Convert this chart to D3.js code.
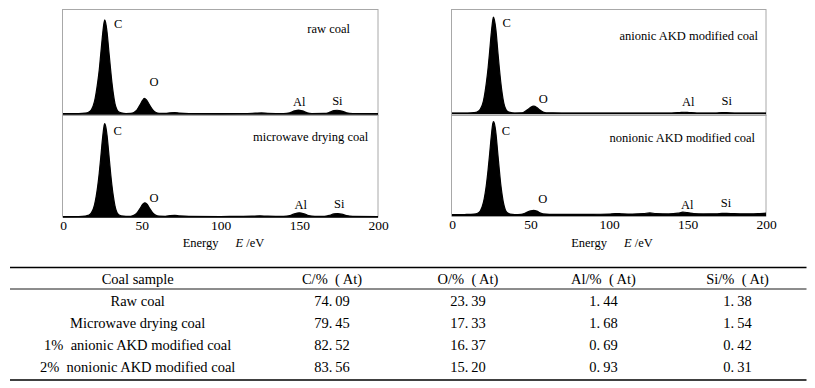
<!DOCTYPE html>
<html>
<head>
<meta charset="utf-8">
<script src="https://cdn.jsdelivr.net/npm/d3@7"></script>
<style>
  html, body { margin: 0; padding: 0; background: #fff; }
  svg { display: block; }
</style>
</head>
<body>
<svg id="chart" width="815" height="388"></svg>
<script>
// ---------------- DATA ----------------
const energyTicks = [0, 50, 100, 150, 200];

// EDS spectra: [energy (eV), relative counts]
const rawCoal = [[0,0.3],[10,0.4],[14,0.8],[16,1.5],[18,4],[20,12],[22,30],[23,42],[24,58],[25,74],[26,87],[26.5,90],[27,88],[28,78],[29,62],[30,46],[31,31],[32,19],[33,10],[34,5],[35,2.5],[37,1],[40,0.5],[43,0.6],[45,1.5],[47,4],[49,9],[50.5,13],[51.6,15],[53,13.5],[55,8.5],[57,4],[59,1.5],[61,0.7],[65,0.6],[68,1.2],[71,1.4],[74,0.9],[80,0.5],[100,0.4],[115,0.5],[122,0.8],[126,1.0],[130,0.7],[140,0.5],[144,1.2],[147,3],[149.5,3.8],[152,3],[155,1.2],[158,0.5],[166,0.6],[169,1.5],[172,3.2],[174,3.6],[177,2.8],[180,1.2],[184,0.5],[200,0.4]];
const microwaveCoal = [[0,0.4],[10,0.5],[14,0.9],[16,1.6],[18,4],[20,12],[22,30],[23,43],[24,59],[25,76],[26,89],[26.4,92],[27,90],[28,80],[29,64],[30,47],[31,32],[32,20],[33,11],[34,5.5],[35,2.8],[37,1.1],[40,0.6],[43,0.7],[45,1.6],[47,4],[49,8.5],[50.5,12.5],[52,14],[53.5,12.5],[55,8.5],[57,4],[59,1.6],[61,0.8],[65,0.7],[68,1.3],[71,1.6],[74,1.1],[80,0.6],[100,0.5],[110,0.7],[120,0.8],[125,1.2],[130,0.8],[140,0.6],[144,1.3],[147,3.2],[150,4.1],[153,3.2],[156,1.3],[160,0.6],[166,0.7],[169,1.6],[172,3],[174.5,3.4],[177,2.8],[180,1.4],[184,0.6],[200,0.5]];
const anionicCoal = [[0,0.3],[10,0.4],[14,0.8],[16,1.5],[18,4],[20,12],[22,31],[23,44],[24,60],[25,77],[26,90],[26.4,92.6],[27,90],[28,80],[29,63],[30,46],[31,31],[32,19],[33,10],[34,5],[35,2.4],[37,1],[40,0.5],[44,0.6],[46,1.5],[48,3.5],[50,5.8],[52,7],[54,5.8],[56,3.3],[58,1.4],[60,0.6],[70,0.5],[100,0.4],[140,0.5],[145,0.9],[148,1.2],[151,0.9],[156,0.5],[168,0.5],[172,0.9],[175,0.8],[180,0.5],[200,0.4]];
const nonionicCoal = [[0,0.8],[8,1],[14,1.4],[16,2],[18,4.5],[20,13],[22,32],[23,46],[24,62],[25,79],[26,92],[26.4,94],[27,92],[28,82],[29,65],[30,48],[31,32],[32,20],[33,11],[34,5.5],[35,3],[37,1.5],[40,1],[44,1.2],[46,2],[48,3.5],[50,4.6],[52,5.2],[54,4.4],[56,2.8],[58,1.6],[62,1.1],[70,1.2],[80,1.1],[90,1.2],[100,1.4],[104,1.9],[108,1.7],[115,1.5],[122,1.9],[126,2.6],[130,1.9],[138,1.6],[144,2.3],[147,3.3],[150,2.9],[154,1.9],[160,1.6],[168,1.7],[172,2.1],[175,2.2],[180,1.8],[190,1.7],[196,2],[200,2.3]];

const sampleNames = ["raw coal", "microwave drying coal", "anionic AKD modified coal", "nonionic AKD modified coal"];

// peak labels: [label, energy, counts]
const rawLabels = [["C",35.1,86.4],["O",57.8,30.8],["Al",150,11.7],["Si",174.2,12.7]];
const microwaveLabels = [["C",34.7,85.3],["O",57.8,18.9],["Al",150.9,11.8],["Si",175.4,13.4]];
const anionicLabels = [["C",34.8,87.8],["O",58.2,14.5],["Al",150.5,11.3],["Si",175,12.2]];
const nonionicLabels = [["C",34.4,85.1],["O",57.8,17.1],["Al",149.9,11.1],["Si",174.5,13.1]];
// sample name position [energy, counts]
const namePos = [[182.2,81.6],[193.8,78.7],[194.9,75.1],[193,77.4]];

// table
const tableHeaders = ["Coal sample", "C/%\u2002(\u2009At)", "O/%\u2002(\u2009At)", "Al/%\u2002(\u2009At)", "Si/%\u2002(\u2009At)"];
const tableSamples = ["Raw coal", "Microwave drying coal", "1%\u2002anionic AKD modified coal", "2%\u2002nonionic AKD modified coal"];
const cValues = [74.09, 79.45, 82.52, 83.56];
const oValues = [23.39, 17.33, 16.37, 15.20];
const alValues = [1.44, 1.68, 0.69, 0.93];
const siValues = [1.38, 1.54, 0.42, 0.31];

// ---------------- DRAW ----------------
const FONT = "'Liberation Serif', 'Times New Roman', Times, 'DejaVu Serif', serif";
const svg = d3.select("#chart").attr("font-family", FONT);

const columns = [
  { x0: 63, x1: 378, frameX0: 62.5, frameX1: 378 },
  { x0: 452, x1: 766, frameX0: 451.5, frameX1: 766 }
];
const rowsLayout = [
  { top: 9.5, bottom: 114, frameBottom: 115.5 },
  { top: 115.5, bottom: 217, frameBottom: 217 }
];
const rowsLayoutRight = [
  { top: 9.5, bottom: 113.5, frameBottom: 115.5 },
  { top: 115.5, bottom: 215.5, frameBottom: 216 }
];

const panels = [
  { col: 0, row: 0, data: rawCoal, labels: rawLabels },
  { col: 0, row: 1, data: microwaveCoal, labels: microwaveLabels },
  { col: 1, row: 0, data: anionicCoal, labels: anionicLabels },
  { col: 1, row: 1, data: nonionicCoal, labels: nonionicLabels }
];

function serif(sel, size) {
  return sel.attr("font-family", FONT).style("font-family", FONT)
    .style("font-size", size + "px").attr("fill", "#000");
}

panels.forEach((p, i) => {
  const c = columns[p.col];
  const r = (p.col === 0 ? rowsLayout : rowsLayoutRight)[p.row];
  const x = d3.scaleLinear().domain([0, 200]).range([c.x0, c.x1]);
  const y = d3.scaleLinear().domain([0, 100]).range([r.bottom, r.top]);
  const g = svg.append("g");

  g.append("rect")
    .attr("x", c.frameX0).attr("y", r.top)
    .attr("width", c.frameX1 - c.frameX0).attr("height", r.frameBottom - r.top)
    .attr("fill", "none").attr("stroke", "#a8a8a8").attr("stroke-width", 1);

  const area = d3.area()
    .x(d => x(d[0])).y0(y(0)).y1(d => y(d[1]))
    .curve(d3.curveMonotoneX);
  const line = d3.line()
    .x(d => x(d[0])).y(d => y(d[1]))
    .curve(d3.curveMonotoneX);

  g.append("path").datum(p.data).attr("d", area).attr("fill", "#000");
  g.append("path").datum(p.data).attr("d", line)
    .attr("fill", "none").attr("stroke", "#000").attr("stroke-width", 1.2);
  g.append("line")
    .attr("x1", x(0)).attr("x2", x(200)).attr("y1", y(0)).attr("y2", y(0))
    .attr("stroke", "#000").attr("stroke-width", 1.5);

  serif(g.selectAll("text.peak").data(p.labels).enter().append("text")
    .attr("class", "peak")
    .attr("x", d => x(d[1])).attr("y", d => y(d[2]))
    .attr("dy", "0.35em")
    .attr("text-anchor", "middle"), 12.5)
    .text(d => d[0]);

  serif(g.append("text")
    .attr("x", x(namePos[i][0])).attr("y", y(namePos[i][1]))
    .attr("dy", "0.35em")
    .attr("text-anchor", "end"), 12.5)
    .text(sampleNames[i]);
});

// axes
columns.forEach((c, ci) => {
  const x = d3.scaleLinear().domain([0, 200]).range([c.x0, c.x1]);
  const ax = svg.append("g")
    .attr("transform", `translate(0,${ci === 0 ? 217 : 216})`)
    .call(d3.axisBottom(x).tickValues(energyTicks).tickSize(0).tickPadding(3).tickFormat(d3.format("d")));
  ax.attr("font-family", FONT);
  ax.select(".domain").remove();
  serif(ax.selectAll("text"), 13.5);

  const cx = (c.x0 + c.x1) / 2;
  const t = serif(svg.append("text")
    .attr("x", cx + 3).attr("y", 247)
    .attr("text-anchor", "middle"), 12.5);
  t.append("tspan").text("Energy");
  t.append("tspan").attr("dx", 17).style("font-style", "italic").text("E");
  t.append("tspan").text(" /eV");
});

// table
const colX = [137.7, 332, 468, 603.5, 737.5];
const tLeft = 10, tRight = 806.5;
svg.append("line").attr("x1", tLeft).attr("x2", tRight).attr("y1", 267.5).attr("y2", 267.5)
  .attr("stroke", "#000").attr("stroke-width", 1.4);
svg.append("line").attr("x1", tLeft).attr("x2", tRight).attr("y1", 289).attr("y2", 289)
  .attr("stroke", "#000").attr("stroke-width", 0.9);
svg.append("line").attr("x1", tLeft).attr("x2", tRight).attr("y1", 380).attr("y2", 380)
  .attr("stroke", "#000").attr("stroke-width", 1.4);

serif(svg.selectAll("text.head").data(tableHeaders).enter().append("text")
  .attr("class", "head")
  .attr("x", (d, i) => colX[i]).attr("y", 278.7).attr("dy", "0.35em")
  .attr("text-anchor", "middle"), 14.5)
  .text(d => d);

const fmt = v => d3.format(".2f")(v).replace(".", ".\u2009");
const rowY = [301.3, 323, 345.3, 367.3];
const tableRows = tableSamples.map((s, i) => [s, fmt(cValues[i]), fmt(oValues[i]), fmt(alValues[i]), fmt(siValues[i])]);
tableRows.forEach((row, ri) => {
  serif(svg.selectAll(null).data(row).enter().append("text")
    .attr("x", (d, i) => colX[i]).attr("y", rowY[ri]).attr("dy", "0.35em")
    .attr("text-anchor", "middle"), 14.5)
    .text(d => d);
});
</script>
</body>
</html>
